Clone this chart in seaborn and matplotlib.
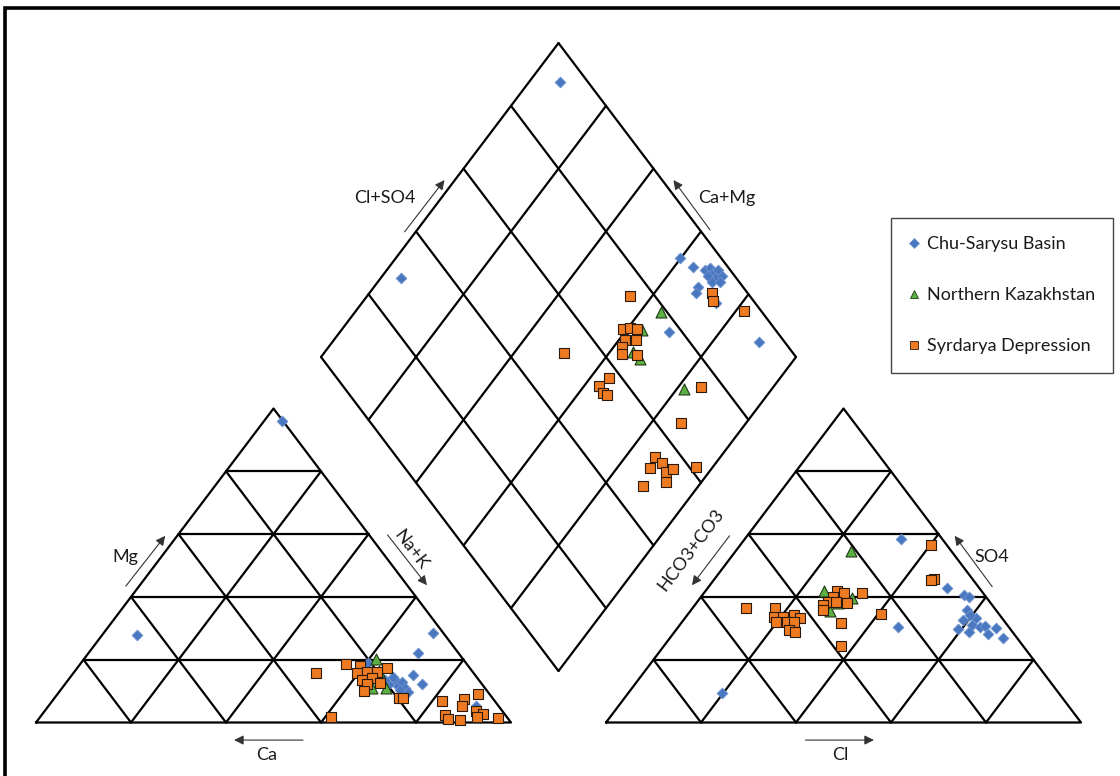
import numpy as np
import pandas as pd
import matplotlib
matplotlib.use("Agg")
import matplotlib.pyplot as plt
import seaborn as sns
from matplotlib.lines import Line2D
from matplotlib.patches import Rectangle

# ---------------------------------------------------------------------------
# Sample compositions (% meq/L)
# ---------------------------------------------------------------------------
groups = ["Chu-Sarysu Basin", "Northern Kazakhstan", "Syrdarya Depression"]

# Cation triangle: Mg and Na+K (Ca = 100 - Mg - Na+K)
cat_mg_chu = [96.1, 27.9, 28.4, 22.2, 15.1, 12.3, 12.6, 13.5, 11.6, 12.9, 11.0,
              10.4, 9.7, 13.5, 14.5, 18.9, 5.3]
cat_nak_chu = [3.7, 7.3, 69.3, 69.4, 71.9, 75.1, 68.2, 68.8, 70.4, 70.6, 72.2,
               71.4, 73.5, 66.7, 68.0, 60.4, 90.0]
cat_mg_nk = [20.2, 11.0, 11.0, 13.9, 16.5]
cat_nak_nk = [61.5, 65.2, 68.2, 65.5, 64.0]
cat_mg_syr = [15.9, 1.7, 18.6, 18.1, 17.5, 15.8, 16.2, 16.2, 13.5, 14.2, 12.6,
              12.3, 10.1, 7.9, 7.9, 6.8, 7.5, 9.1, 5.3, 2.4, 1.1, 0.8, 3.8,
              2.6, 1.7, 1.5]
cat_nak_syr = [51.0, 61.2, 55.9, 59.2, 65.2, 59.7, 61.5, 63.6, 61.8, 63.6, 66.1,
               63.5, 64.0, 72.4, 73.4, 82.0, 86.4, 88.6, 87.0, 84.9, 86.2, 88.9,
               90.7, 92.7, 92.0, 96.5]

# Anion triangle: SO4 and Cl (HCO3+CO3 = 100 - SO4 - Cl)
an_so4_chu = [58.3, 42.7, 40.6, 40.1, 35.8, 33.2, 32.6, 31.1, 30.4, 29.8, 28.9,
              30.7, 30.2, 28.1, 26.8, 30.5, 9.3, 34.2]
an_cl_chu = [32.9, 50.5, 55.0, 56.4, 58.1, 61.3, 58.9, 61.6, 63.5, 59.2, 62.0,
             64.4, 67.1, 66.3, 70.2, 46.3, 19.7, 59.5]
an_so4_nk = [54.7, 42.0, 39.6, 38.2, 35.6]
an_cl_nk = [24.2, 24.9, 32.0, 29.7, 29.3]
an_so4_syr = [56.5, 45.6, 45.4, 41.3, 34.5, 36.4, 36.4, 33.7, 33.7, 34.2, 33.2,
              32.1, 32.1, 31.9, 29.5, 28.9, 31.6, 24.4, 42.0, 41.3, 40.1, 38.5,
              38.5, 37.4, 35.8, 38.0]
an_cl_syr = [40.1, 46.3, 45.7, 33.2, 40.6, 11.2, 17.4, 18.6, 20.5, 22.5, 24.2,
             19.7, 22.0, 23.6, 23.7, 25.4, 33.7, 37.3, 27.6, 29.4, 27.8, 27.5,
             29.2, 26.9, 27.7, 31.7]

# Central diamond: Cl+SO4 and Ca+Mg
dia_clso4_chu = [94.1, 29.4, 91.5, 92.7, 94.7, 96.1, 96.3, 97.4, 94.4, 95.7,
                 97.3, 94.3, 96.0, 90.5, 89.1, 91.8, 77.3, 94.7]
dia_camg_chu = [93.5, 95.7, 40.2, 36.1, 33.0, 32.3, 30.8, 30.3, 31.5, 29.4,
                28.5, 29.7, 27.9, 31.9, 31.3, 25.4, 30.8, 10.2]
dia_clso4_nk = [78.7, 71.8, 66.6, 66.8, 71.4]
dia_camg_nk = [35.5, 36.8, 35.1, 32.5, 18.4]
dia_clso4_syr = [74.7, 92.4, 91.3, 96.4, 68.1, 69.6, 70.9, 66.7, 69.0, 65.0,
                 63.8, 66.8, 51.9, 57.3, 54.0, 53.8, 54.2, 75.2, 65.3, 54.4,
                 54.9, 51.6, 54.4, 56.3, 61.5, 52.8, 47.3]
dia_camg_syr = [44.6, 27.9, 26.4, 18.3, 40.8, 39.5, 38.0, 38.7, 36.4, 38.3,
                37.2, 33.9, 49.5, 35.9, 36.8, 34.9, 33.7, 15.3, 13.8, 13.8,
                11.4, 13.1, 9.1, 8.0, 3.6, 7.5, 11.6]

# ---------------------------------------------------------------------------
# Diagram geometry (data units: triangle side = 1)
# ---------------------------------------------------------------------------
TRI_H = 0.661          # drawn triangle height
GAP = 0.2              # gap between the two triangles
DIA_BASE = 0.1084      # height of the diamond's lower vertex
N_DIV = 5


def cation_xy(mg, nak):
    mg = np.asarray(mg) / 100.0
    nak = np.asarray(nak) / 100.0
    return nak + mg / 2.0, mg * TRI_H


def anion_xy(so4, cl):
    so4 = np.asarray(so4) / 100.0
    cl = np.asarray(cl) / 100.0
    return 1.0 + GAP + cl + so4 / 2.0, so4 * TRI_H


def diamond_xy(clso4, camg):
    u = np.asarray(clso4, dtype=float) / 100.0
    v = np.asarray(camg, dtype=float) / 100.0
    return 1.0 + GAP / 2.0 + 0.5 * (u - v), DIA_BASE + TRI_H * (u + v)


rows = []
for grp, mg, nak, so4, cl, us, vs in [
    (groups[0], cat_mg_chu, cat_nak_chu, an_so4_chu, an_cl_chu, dia_clso4_chu, dia_camg_chu),
    (groups[1], cat_mg_nk, cat_nak_nk, an_so4_nk, an_cl_nk, dia_clso4_nk, dia_camg_nk),
    (groups[2], cat_mg_syr, cat_nak_syr, an_so4_syr, an_cl_syr, dia_clso4_syr, dia_camg_syr),
]:
    for fx, fy in (cation_xy(mg, nak), anion_xy(so4, cl), diamond_xy(us, vs)):
        for xx, yy in zip(fx, fy):
            rows.append({"x": xx, "y": yy, "group": grp})
df = pd.DataFrame(rows)

# ---------------------------------------------------------------------------
# Figure
# ---------------------------------------------------------------------------
sns.set_theme(style="white")
plt.rcParams["font.family"] = ["Lato", "DejaVu Sans"]

fig = plt.figure(figsize=(11.2, 7.76), dpi=100)
ax = fig.add_axes([0, 0, 1, 1])
ax.set_xlim(-36 / 475, 1084 / 475)
ax.set_ylim(-53.5 / 475, 722.5 / 475)
ax.axis("off")

LW = 1.6
line_kw = dict(color="black", lw=LW, solid_capstyle="round", zorder=1)


def draw_triangle(x0):
    ax.plot([x0, x0 + 1, x0 + 0.5, x0], [0, 0, TRI_H, 0], **line_kw)
    for k in range(1, N_DIV):
        f = k / N_DIV
        ax.plot([x0 + f / 2, x0 + 1 - f / 2], [f * TRI_H, f * TRI_H], **line_kw)
        ax.plot([x0 + f, x0 + f / 2], [0, f * TRI_H], **line_kw)
        ax.plot([x0 + f, x0 + (1 + f) / 2], [0, (1 - f) * TRI_H], **line_kw)


draw_triangle(0.0)
draw_triangle(1.0 + GAP)

for k in range(0, N_DIV + 1):
    f = 100.0 * k / N_DIV
    xa, ya = diamond_xy([f, f], [0, 100])
    ax.plot(xa, ya, **line_kw)
    xb, yb = diamond_xy([0, 100], [f, f])
    ax.plot(xb, yb, **line_kw)

# Points
BLUE, GREEN, ORANGE = "#4A78C0", "#5DB043", "#EE7A22"
styles = {
    groups[0]: dict(marker="D", s=30, color=BLUE, edgecolor="#6E93CF", linewidth=0.6),
    groups[1]: dict(marker="^", s=62, color=GREEN, edgecolor="#1E3A14", linewidth=0.8),
    groups[2]: dict(marker="s", s=52, color=ORANGE, edgecolor="#2B1A0E", linewidth=0.8),
}
for grp in groups:
    sub = df[df["group"] == grp]
    sns.scatterplot(data=sub, x="x", y="y", ax=ax, legend=False, zorder=3, **styles[grp])

# Axis captions with direction arrows
TXT = dict(fontsize=13, color="#1a1a1a", ha="center", va="center")
ARR = dict(arrowstyle="-|>", color="#333333", lw=0.8, mutation_scale=14,
           shrinkA=0, shrinkB=0)


def arrow(tail, head):
    ax.annotate("", xy=head, xytext=tail, arrowprops=ARR)


ang = np.degrees(np.arctan2(TRI_H, 0.5))

ax.text(0.735, 1.104, "Cl+SO4", **TXT)
arrow((0.776, 1.033), (0.860, 1.142))
ax.text(1.455, 1.104, "Ca+Mg", **TXT)
arrow((1.419, 1.037), (1.342, 1.142))

ax.text(0.187, 0.349, "Mg", **TXT)
arrow((0.189, 0.287), (0.272, 0.393))
ax.text(0.789, 0.363, "Na+K", rotation=-ang, rotation_mode="anchor", **TXT)
arrow((0.740, 0.395), (0.823, 0.289))
ax.text(0.486, -0.068, "Ca", **TXT)
arrow((0.562, -0.037), (0.417, -0.037))

ax.text(1.378, 0.363, "HCO3+CO3", rotation=ang, rotation_mode="anchor", **TXT)
arrow((1.460, 0.393), (1.381, 0.289))
ax.text(2.013, 0.349, "SO4", **TXT)
arrow((2.013, 0.286), (1.934, 0.393))
ax.text(1.693, -0.068, "Cl", **TXT)
arrow((1.620, -0.037), (1.764, -0.037))

# Legend
handles = [
    Line2D([], [], linestyle="none", marker="D", markersize=5,
           markerfacecolor=BLUE, markeredgecolor="#6E93CF", markeredgewidth=0.5),
    Line2D([], [], linestyle="none", marker="^", markersize=6,
           markerfacecolor=GREEN, markeredgecolor="#1E3A14", markeredgewidth=0.6),
    Line2D([], [], linestyle="none", marker="s", markersize=5.5,
           markerfacecolor=ORANGE, markeredgecolor="#2B1A0E", markeredgewidth=0.6),
]
leg = fig.legend(handles, groups, loc="upper left",
                 bbox_to_anchor=(891 / 1120, 1 - 218 / 776),
                 fontsize=13, frameon=True, fancybox=False, framealpha=1,
                 edgecolor="#444444", labelspacing=1.95, handlelength=0.6,
                 handletextpad=0.4, borderpad=1.0, borderaxespad=0)
leg.get_frame().set_linewidth(1.0)
for t in leg.get_texts():
    t.set_color("#1a1a1a")

# Outer frame
fig.patches.append(Rectangle((5 / 1120, -0.1), 1.2, 1.1 - 8 / 776,
                             transform=fig.transFigure, fill=False,
                             edgecolor="black", lw=2.6, zorder=10))

fig.savefig("out.png", dpi=100)
